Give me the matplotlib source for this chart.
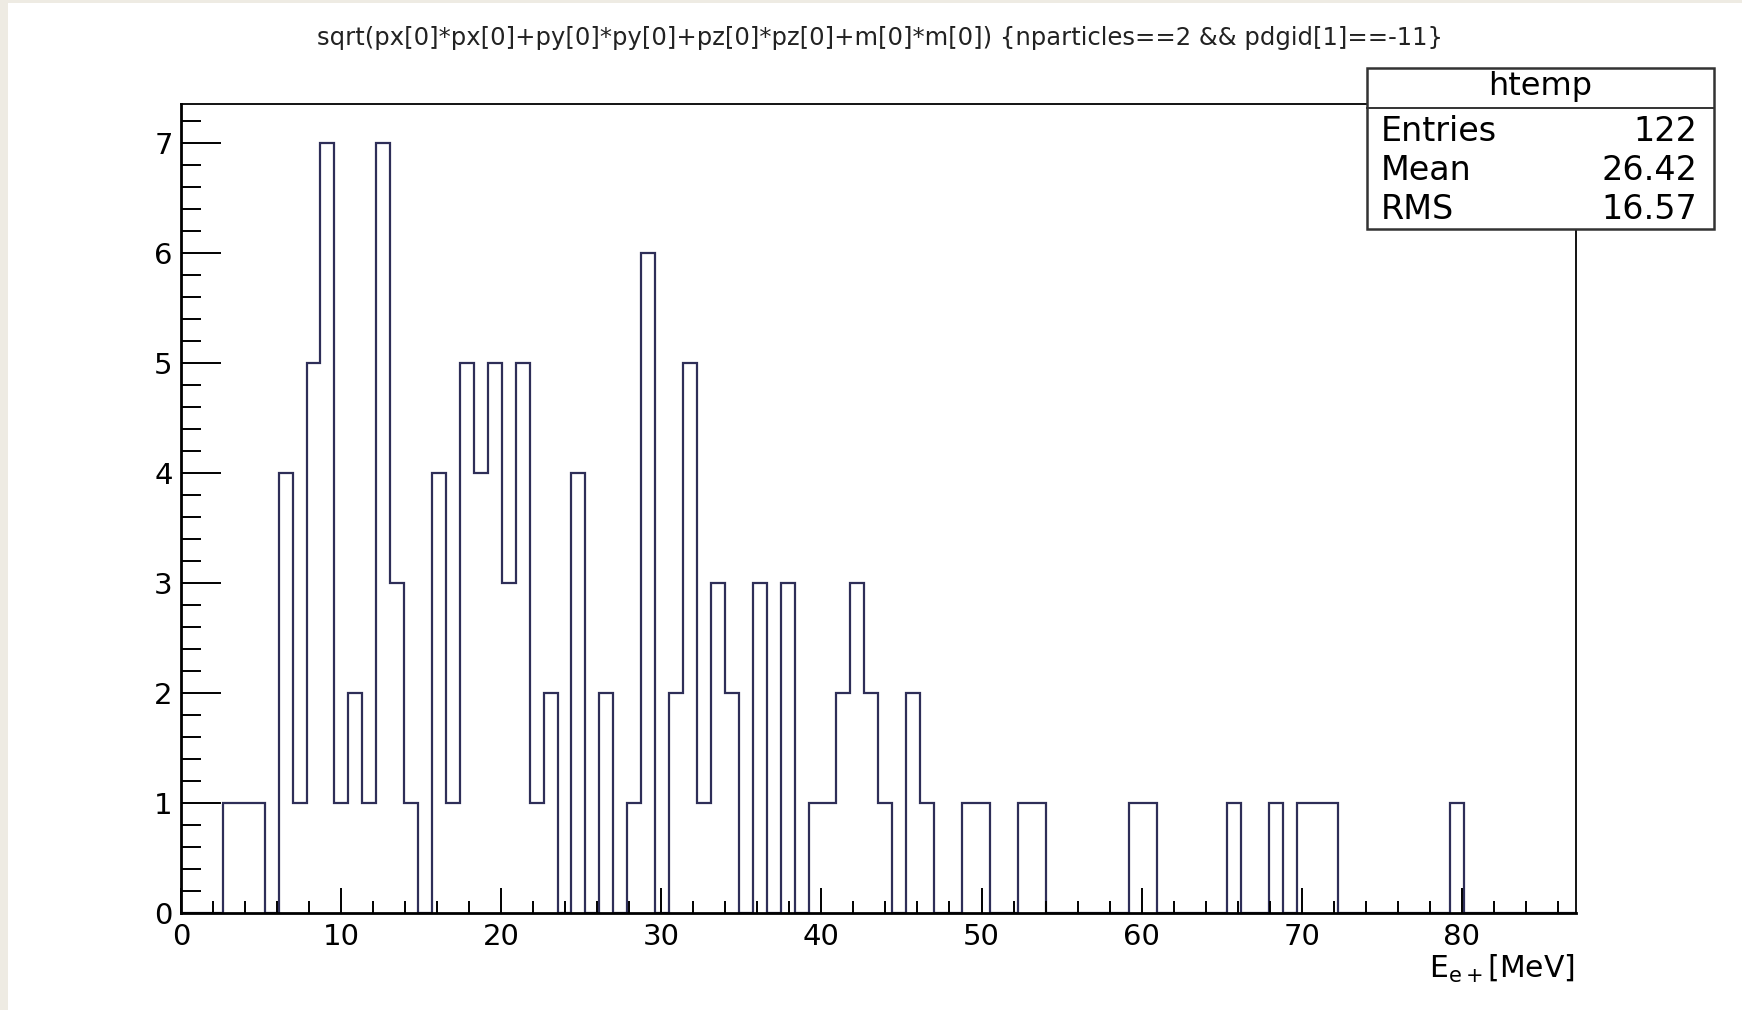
import numpy as np
import matplotlib
matplotlib.use("Agg")
import matplotlib.pyplot as plt
from matplotlib.patches import Rectangle
from matplotlib.lines import Line2D
from matplotlib.ticker import MultipleLocator

# histogram: 100 bins between X_MIN and X_MAX
X_MIN = 0.0
X_MAX = 87.1
N_BINS = 100
counts = [0, 0, 0, 1, 1, 1, 0, 4, 1, 5,
          7, 1, 2, 1, 7, 3, 1, 0, 4, 1,
          5, 4, 5, 3, 5, 1, 2, 0, 4, 0,
          2, 0, 1, 6, 0, 2, 5, 1, 3, 2,
          0, 3, 0, 3, 0, 1, 1, 2, 3, 2,
          1, 0, 2, 1, 0, 0, 1, 1, 0, 0,
          1, 1, 0, 0, 0, 0, 0, 0, 1, 1,
          0, 0, 0, 0, 0, 1, 0, 0, 1, 0,
          1, 1, 1, 0, 0, 0, 0, 0, 0, 0,
          0, 1, 0, 0, 0, 0, 0, 0, 0, 0]

title = "sqrt(px[0]*px[0]+py[0]*py[0]+pz[0]*pz[0]+m[0]*m[0]) {nparticles==2 && pdgid[1]==-11}"
x_label = r"E$_{\mathrm{e+}}$[MeV]"
stat_name = "htemp"
stat_rows = ["Entries", "Mean", "RMS"]
stat_vals = ["122", "26.42", "16.57"]

plt.rcParams['font.family'] = ['DejaVu Sans']

W, H = 1742, 1010
fig = plt.figure(figsize=(W / 100, H / 100), dpi=100)
fig.patch.set_facecolor("white")

# beige border strips of the screenshot
fig.patches.append(Rectangle((0, 0), 8 / W, 1, transform=fig.transFigure,
                             facecolor="#eeebe3", edgecolor="none", zorder=0))
fig.patches.append(Rectangle((0, 1 - 3 / H), 1, 3 / H, transform=fig.transFigure,
                             facecolor="#eeebe3", edgecolor="none", zorder=0))

ax = fig.add_axes([181 / W, 96.7 / H, (1575.5 - 181) / W, (913.3 - 104.4) / H])

edges = np.linspace(X_MIN, X_MAX, N_BINS + 1)
ax.stairs(counts, edges, color="#2e2e58", linewidth=1.6, baseline=0)

ax.set_xlim(X_MIN, X_MAX)
ax.set_ylim(0, 7.35)

ax.xaxis.set_major_locator(MultipleLocator(10))
ax.xaxis.set_minor_locator(MultipleLocator(2))
ax.yaxis.set_major_locator(MultipleLocator(1))
ax.yaxis.set_minor_locator(MultipleLocator(0.2))

ax.tick_params(axis="x", which="major", direction="in", length=18, width=1.4,
               labelsize=21, pad=7, top=False)
ax.tick_params(axis="x", which="minor", direction="in", length=8.5, width=1.4, top=False)
ax.tick_params(axis="y", which="major", direction="in", length=29, width=1.4,
               labelsize=21, pad=6, right=False)
ax.tick_params(axis="y", which="minor", direction="in", length=14.5, width=1.4, right=False)

for s in ["left", "bottom"]:
    ax.spines[s].set_linewidth(2.0)
for s in ["top", "right"]:
    ax.spines[s].set_linewidth(1.3)

fig.text(880 / W, 1 - 38.5 / H, title, ha="center", va="center",
         fontsize=17.5, color="#222222")

fig.text(1575 / W, 1 - 969 / H, x_label, ha="right", va="center", fontsize=21.5)

# stat box
bx0, bx1 = 1366.5 / W, 1714 / W
by0, by1 = 1 - 229 / H, 1 - 68 / H
fig.patches.append(Rectangle((bx0, by0), bx1 - bx0, by1 - by0, transform=fig.transFigure,
                             facecolor="white", edgecolor="#333333", linewidth=1.8, zorder=5))
fig.lines.append(Line2D([bx0, bx1], [1 - 108 / H, 1 - 108 / H], transform=fig.transFigure,
                        color="#333333", linewidth=1.4, zorder=6))
fig.text((bx0 + bx1) / 2, 1 - 87 / H, stat_name, ha="center", va="center",
         fontsize=23, zorder=7)
row_y = [131.7, 170, 209.3]
for name, val, yy in zip(stat_rows, stat_vals, row_y):
    fig.text(1381 / W, 1 - yy / H, name, ha="left", va="center", fontsize=24, zorder=7)
    fig.text(1697 / W, 1 - yy / H, val, ha="right", va="center", fontsize=24, zorder=7)

fig.savefig("out.png", dpi=100)
